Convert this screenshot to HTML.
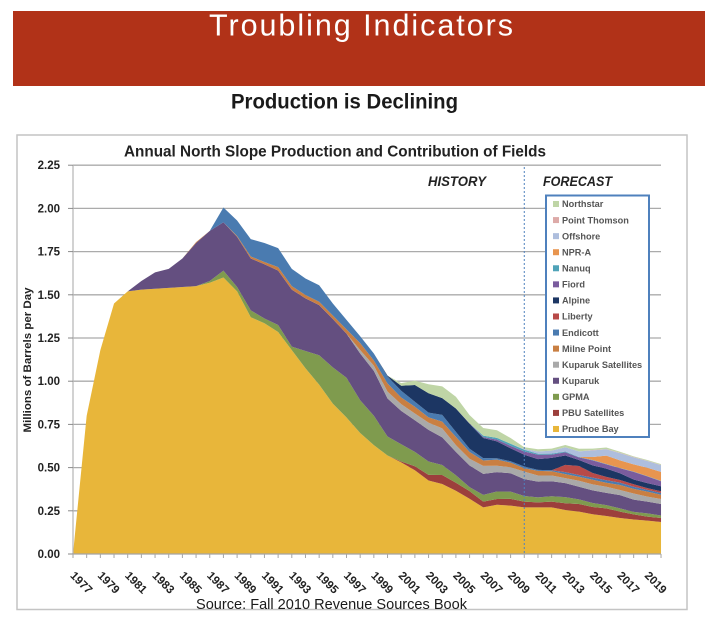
<!DOCTYPE html>
<html lang="en">
<head>
<meta charset="utf-8">
<title>Troubling Indicators</title>
<style>
html,body{margin:0;padding:0;background:#fff;width:705px;height:631px;overflow:hidden}
svg{display:block;font-family:"Liberation Sans",sans-serif}
</style>
</head>
<body>
<svg id="page" width="705" height="631" viewBox="0 0 705 631" xmlns="http://www.w3.org/2000/svg">
  <rect x="13" y="11" width="692" height="75" fill="#B13218"/>
  <text x="209" y="35.5" font-size="30.5" fill="#fff" textLength="304" lengthAdjust="spacing">Troubling Indicators</text>
  <text x="231" y="108.5" font-size="21" font-weight="bold" fill="#1a1a1a" textLength="227" lengthAdjust="spacingAndGlyphs">Production is Declining</text>
  <rect x="17" y="135" width="670" height="474.5" fill="#fff" stroke="#c4c4c4" stroke-width="1.5"/>
  <g id="chart" style="filter:blur(0.35px)">
    <text x="124" y="156.5" font-size="15.5" font-weight="bold" fill="#222" textLength="422" lengthAdjust="spacingAndGlyphs">Annual North Slope Production and Contribution of Fields</text>
    <g id="grid"></g>
    <g id="areas"></g>
    <g id="axes"></g>
    <text x="31" y="360" font-size="11" font-weight="bold" fill="#222" text-anchor="middle" transform="rotate(-90 31 360)" textLength="145" lengthAdjust="spacingAndGlyphs">Millions of Barrels per Day</text>
    <text x="428" y="186" font-size="13.5" font-weight="bold" font-style="italic" fill="#222" textLength="58" lengthAdjust="spacingAndGlyphs">HISTORY</text>
    <text x="543" y="186" font-size="13.5" font-weight="bold" font-style="italic" fill="#222" textLength="69" lengthAdjust="spacingAndGlyphs">FORECAST</text>
    <g id="legend"></g>
  </g>
  <text x="196" y="609" font-size="15" fill="#1a1a1a" textLength="271" lengthAdjust="spacingAndGlyphs">Source: Fall 2010 Revenue Sources Book</text>
</svg>
<script>
const years = [1977,1978,1979,1980,1981,1982,1983,1984,1985,1986,
  1987,1988,1989,1990,1991,1992,1993,1994,1995,1996,
  1997,1998,1999,2000,2001,2002,2003,2004,2005,2006,
  2007,2008,2009,2010,2011,2012,2013,2014,2015,2016,
  2017,2018,2019,2020];
const yTicks = [0,0.25,0.5,0.75,1,1.25,1.5,1.75,2,2.25];
const xLabelYears = [1977,1979,1981,1983,1985,1987,1989,1991,1993,1995,1997,1999,2001,2003,2005,2007,2009,2011,2013,2015,2017,2019];
const forecastStartYear = 2010;

const prudhoeBay = [0,.80,1.18,1.45,1.52,1.53,1.535,1.54,1.545,1.55,
  1.57,1.60,1.52,1.37,1.335,1.285,1.18,1.075,.98,.87,
  .79,.70,.63,.57,.53,.485,.425,.405,.366,.32,
  .27,.285,.28,.27,.27,.27,.255,.245,.23,.22,
  .208,.20,.193,.185];
const pbuSatellites = [0,0,0,0,0,0,0,0,0,0,
  0,0,0,0,0,0,0,0,0,0,
  0,0,0,0,.005,.023,.033,.052,.046,.044,
  .033,.033,.039,.033,.029,.033,.039,.044,.042,.044,
  .037,.029,.023,.023];
const gpma = [0,0,0,0,0,0,0,0,0,0,
  .01,.04,.025,.04,.028,.04,.02,.10,.17,.21,
  .23,.19,.17,.11,.10,.083,.077,.058,.044,.023,
  .039,.044,.042,.033,.029,.031,.035,.027,.023,.019,
  .019,.015,.019,.015];
const kuparuk = [0,0,0,0,0,.05,.095,.11,.165,.25,
  .29,.28,.29,.30,.314,.315,.33,.304,.29,.28,
  .255,.27,.26,.22,.193,.183,.183,.160,.135,.125,
  .122,.112,.106,.097,.091,.087,.081,.073,.073,.071,
  .077,.071,.068,.066];
const kuparukSatellites = [0,0,0,0,0,0,0,0,0,0,
  0,0,0,0,0,0,0,0,0,0,
  0,.02,.03,.04,.039,.039,.042,.052,.039,.039,
  .046,.037,.035,.044,.035,.033,.029,.035,.035,.035,
  .029,.035,.029,.029];
const milnePoint = [0,0,0,0,0,0,0,0,0,.005,
  0,0,.005,.012,.013,.02,.02,.02,.02,.02,
  .025,.04,.03,.047,.039,.039,.031,.039,.048,.039,
  .031,.035,.027,.019,.027,.025,.023,.023,.027,.023,
  .029,.027,.029,.025];
const endicott = [0,0,0,0,0,0,0,0,0,0,
  0,.085,.09,.10,.11,.11,.10,.095,.095,.07,
  .055,.04,.04,.04,.039,.029,.027,.039,.029,.019,
  .014,.008,.008,.01,.006,.006,.012,.01,.012,.015,
  .014,.012,.01,.01];
const liberty = [0,0,0,0,0,0,0,0,0,0,
  0,0,0,0,0,0,0,0,0,0,
  0,0,0,0,0,0,0,0,0,0,
  0,0,0,0,0,0,.042,.052,.027,.019,
  .015,.015,.01,.01];
const alpine = [0,0,0,0,0,0,0,0,0,0,
  0,0,0,0,0,0,0,0,0,0,
  0,0,0,.005,.029,.097,.112,.097,.135,.145,
  .116,.098,.075,.068,.062,.071,.054,.035,.044,.048,
  .039,.027,.029,.029];
const fiord = [0,0,0,0,0,0,0,0,0,0,
  0,0,0,0,0,0,0,0,0,0,
  0,0,0,0,0,0,0,0,0,.002,
  .006,.01,.014,.019,.025,.019,.019,.015,.029,.025,
  .029,.044,.039,.029];
const nanuq = [0,0,0,0,0,0,0,0,0,0,
  0,0,0,0,0,0,0,0,0,0,
  0,0,0,0,0,0,0,0,0,0,
  .008,.01,.012,.01,.006,.006,.004,.002,.002,.002,
  .002,.002,.002,.002];
const nprA = [0,0,0,0,0,0,0,0,0,0,
  0,0,0,0,0,0,0,0,0,0,
  0,0,0,0,0,0,0,0,0,0,
  0,0,0,0,0,0,0,0,.017,.048,
  .044,.042,.048,.052];
const offshore = [0,0,0,0,0,0,0,0,0,0,
  0,0,0,0,0,0,0,0,0,0,
  0,0,0,0,0,0,0,0,0,0,
  0,0,0,.005,.013,.017,.025,.033,.039,.037,
  .042,.04,.039,.039];
const pointThomson = [0,0,0,0,0,0,0,0,0,0,
  0,0,0,0,0,0,0,0,0,0,
  0,0,0,0,0,0,0,0,0,0,
  0,0,0,0,0,0,0,0,.002,.002,
  .002,.002,.002,.002];
const northstar = [0,0,0,0,0,0,0,0,0,0,
  0,0,0,0,0,0,0,0,0,0,
  0,0,0,0,.015,.025,.052,.068,.068,.048,
  .044,.044,.033,.01,.013,.012,.013,.015,.008,.008,
  .006,.004,.004,.004];

const seriesNames = ["Prudhoe Bay","PBU Satellites","GPMA","Kuparuk","Kuparuk Satellites","Milne Point","Endicott","Liberty","Alpine","Fiord","Nanuq","NPR-A","Offshore","Point Thomson","Northstar"];
const seriesValues = [prudhoeBay,pbuSatellites,gpma,kuparuk,kuparukSatellites,milnePoint,endicott,liberty,alpine,fiord,nanuq,nprA,offshore,pointThomson,northstar];
const seriesColors = ["#E8B63A","#9C3F3C","#7F9B4E","#644F80","#A9A9A9","#C97F42","#4A7BB0","#B84A48","#1C3663","#7A5C9E","#4FA3B8","#E8954F","#AEBEDD","#DDAAA8","#BFD5A6"];

const NS = "http://www.w3.org/2000/svg";
const X0 = 73, XSTEP = 13.675, Y0 = 554, YSCALE = 172.8;
function xAxis(year){ return X0 + (year - years[0]) * XSTEP; }
function yAxis(v){ return Y0 - v * YSCALE; }
function make(tag, attrs, parent){
  const el = document.createElementNS(NS, tag);
  for (const k in attrs) el.setAttribute(k, attrs[k]);
  parent.appendChild(el);
  return el;
}

const gridG = document.getElementById("grid");
const axesG = document.getElementById("axes");
const areasG = document.getElementById("areas");
const legendG = document.getElementById("legend");

yTicks.forEach(function(t){
  if (t > 0) {
    const line = make("line", {x1:X0, x2:661, y1:yAxis(t), y2:yAxis(t), stroke:"#ababab", "stroke-width":1.3}, gridG);
    
    
  }
});

let base = years.map(function(){ return 0; });
seriesValues.forEach(function(vals, s){
  const top = base.map(function(b, i){ return b + vals[i]; });
  const pts = [];
  years.forEach(function(y, i){ pts.push(xAxis(y).toFixed(2) + "," + yAxis(top[i]).toFixed(2)); });
  for (let i = years.length - 1; i >= 0; i--) pts.push(xAxis(years[i]).toFixed(2) + "," + yAxis(base[i]).toFixed(2));
  const poly = make("polygon", {points:pts.join(" "), fill:seriesColors[s]}, areasG);
  
  
  base = top;
});

const yLine = make("line", {x1:X0, x2:X0, y1:yAxis(2.25), y2:Y0, stroke:"#b5b5b5", "stroke-width":1.2}, axesG);


const xLine = make("line", {x1:X0, x2:661, y1:Y0, y2:Y0, stroke:"#a5a5a5", "stroke-width":1.2}, axesG);



yTicks.forEach(function(t){
  const tick = make("line", {x1:68, x2:X0, y1:yAxis(t), y2:yAxis(t), stroke:"#8a8a8a", "stroke-width":1}, axesG);
  
  
  const label = make("text", {x:60, y:yAxis(t) + 4, "font-size":11.5, "font-weight":"bold", "text-anchor":"end", fill:"#222"}, axesG);
  
  
  label.textContent = t.toFixed(2);
});

years.forEach(function(y){
  const tick = make("line", {x1:xAxis(y), x2:xAxis(y), y1:Y0, y2:Y0 + 4, stroke:"#a5a5a5", "stroke-width":1}, axesG);
  
  
});

xLabelYears.forEach(function(y){
  const cx = xAxis(y) + 8.5, cy = 582.5;
  const label = make("text", {x:cx, y:cy + 4, "font-size":11.5, "font-weight":"bold", "text-anchor":"middle", fill:"#222", transform:"rotate(45 " + cx + " " + cy + ")"}, axesG);
  
  
  label.textContent = String(y);
});

const divider = make("line", {x1:xAxis(forecastStartYear), x2:xAxis(forecastStartYear), y1:167, y2:Y0, stroke:"#4F81BD", "stroke-width":1, "stroke-dasharray":"2 2"}, axesG);



const legendBox = make("rect", {x:546, y:195.5, width:103, height:241.5, fill:"#fff", stroke:"#4F81BD", "stroke-width":2}, legendG);


seriesNames.forEach(function(name, s){
  const row = seriesNames.length - 1 - s;
  const cy = 204 + row * 16.07;
  const swatch = make("rect", {x:553, y:cy - 3, width:6, height:6, fill:seriesColors[s]}, legendG);
  
  
  const label = make("text", {x:562, y:cy + 3.2, "font-size":9.2, "font-weight":"bold", fill:"#555"}, legendG);
  
  
  label.textContent = name;
});
</script>
</body>
</html>
